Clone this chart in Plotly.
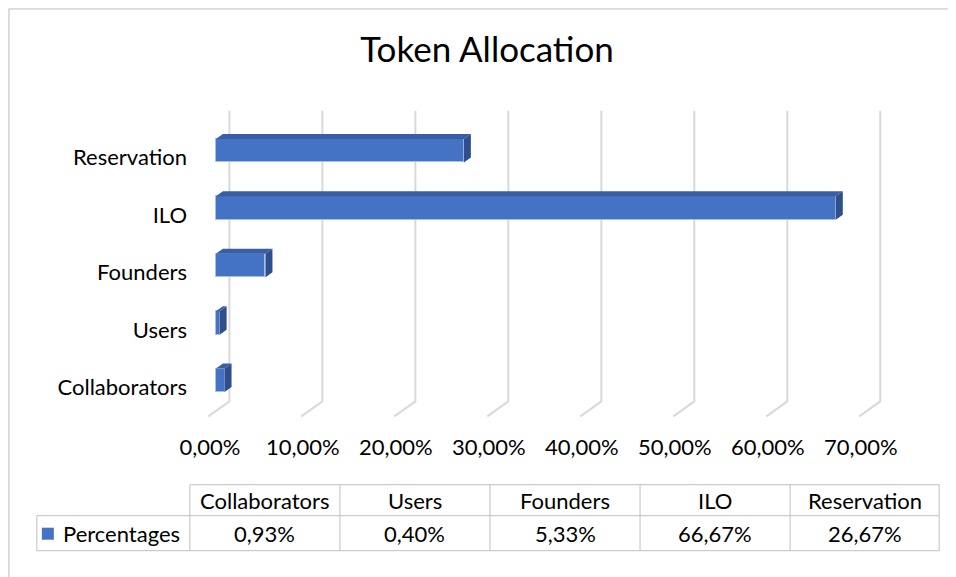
import plotly.graph_objects as go

# ---- data ----
categories = ["Collaborators", "Users", "Founders", "ILO", "Reservation"]
percentages = [0.93, 0.40, 5.33, 66.67, 26.67]
series_name = "Percentages"
x_ticks = [0, 10, 20, 30, 40, 50, 60, 70]
title_text = "Token Allocation"

def pct(v):
    return f"{v:.2f}%".replace(".", ",")

# ---- geometry (all in reference-page pixels) ----
OFF = 8                         # default body margin of the html page
W, H = 956 - OFF, 577 - OFF     # figure size
X0PX = 216.0                    # px of value 0 (front face)
pxu = 9.295                     # px per percent
XMIN, XMAX = -3.0, 72.5
PL = X0PX + XMIN * pxu
PR = X0PX + XMAX * pxu
PT, PB = 122.3, 409.3
pyu = (PB - PT) / 5.0

def xp(px):  # page px -> paper x
    return (px - PL) / (PR - PL)

def yp(py):  # page px -> paper y
    return (PB - py) / (PB - PT)

FONT = "Lato"
BLUE = "#4472C4"
TOP = "#3A5EA6"
SIDE = "#2E4E8C"
GRID = "#D9D9D9"
FS = 22

idx = list(range(len(categories)))
bar_w = 0.41

fig = go.Figure()
fig.add_trace(go.Bar(
    x=percentages, y=idx, orientation="h", width=bar_w,
    marker=dict(color=BLUE, line=dict(color="#A9BEE3", width=1)),
    name=series_name, showlegend=False, hoverinfo="x+y",
))

shapes = []
# back-wall gridlines + floor diagonals
back_dx = 13.5 / pxu
floor_dx = -21.0 / pxu
for v in x_ticks:
    xb = v + back_dx
    shapes.append(dict(
        type="path", xref="x", yref="paper",
        path=f"M {xb},{yp(111)} L {xb},{yp(401.7)} L {xb + floor_dx},{yp(416.7)}",
        line=dict(color=GRID, width=2), layer="below",
    ))

# 3D faces of bars
dx = 7.0 / pxu
dy = 5.0 / pyu
for i, v in zip(idx, percentages):
    yt = i + bar_w / 2
    yb = i - bar_w / 2
    shapes.append(dict(
        type="path", xref="x", yref="y",
        path=f"M 0,{yt} L {v},{yt} L {v + dx},{yt + dy} L {dx},{yt + dy} Z",
        fillcolor=TOP, line=dict(width=0), layer="above",
    ))
    shapes.append(dict(
        type="path", xref="x", yref="y",
        path=f"M {v},{yb} L {v},{yt} L {v + dx},{yt + dy} L {v + dx},{yb + dy} Z",
        fillcolor=SIDE, line=dict(width=0), layer="above",
    ))

# outer chart border
shapes.append(dict(type="line", xref="paper", yref="paper",
                   x0=xp(9), y0=yp(600), x1=xp(9), y1=yp(9),
                   line=dict(color=GRID, width=2)))
shapes.append(dict(type="line", xref="paper", yref="paper",
                   x0=xp(9), y0=yp(9), x1=xp(980), y1=yp(9),
                   line=dict(color=GRID, width=2)))

# data table
col_edges = [190, 340, 490, 640, 790, 939]
row_top, row_mid, row_bot = 485, 516, 551
key_left = 37
tcol = "#BFBFBF"
shapes.append(dict(type="line", xref="paper", yref="paper",
                   x0=xp(col_edges[0]), x1=xp(col_edges[-1]), y0=yp(row_top), y1=yp(row_top),
                   line=dict(color=tcol, width=1)))
for yy in (row_mid, row_bot):
    shapes.append(dict(type="line", xref="paper", yref="paper",
                       x0=xp(key_left), x1=xp(col_edges[-1]), y0=yp(yy), y1=yp(yy),
                       line=dict(color=tcol, width=1)))
shapes.append(dict(type="line", xref="paper", yref="paper",
                   x0=xp(key_left), x1=xp(key_left), y0=yp(row_mid), y1=yp(row_bot),
                   line=dict(color=tcol, width=1)))
for xx in col_edges:
    shapes.append(dict(type="line", xref="paper", yref="paper",
                       x0=xp(xx), x1=xp(xx), y0=yp(row_top), y1=yp(row_bot),
                       line=dict(color=tcol, width=1)))
# legend key square
shapes.append(dict(type="rect", xref="paper", yref="paper",
                   x0=xp(42), x1=xp(54), y0=yp(540), y1=yp(528),
                   fillcolor=BLUE, line=dict(width=0)))

annotations = []
tfont = dict(family=FONT, size=FS, color="#000000")
for k, (c, v) in enumerate(zip(categories, percentages)):
    cx = xp((col_edges[k] + col_edges[k + 1]) / 2)
    annotations.append(dict(text=c, x=cx, y=yp((row_top + row_mid) / 2), xref="paper", yref="paper",
                            showarrow=False, xanchor="center", yanchor="middle", font=tfont))
    annotations.append(dict(text=pct(v), x=cx, y=yp((row_mid + row_bot) / 2), xref="paper", yref="paper",
                            showarrow=False, xanchor="center", yanchor="middle", font=tfont))
annotations.append(dict(text=series_name, x=xp(61), y=yp((row_mid + row_bot) / 2), xref="paper", yref="paper",
                        showarrow=False, xanchor="left", yanchor="middle", font=tfont))

fig.update_layout(
    width=W, height=H,
    margin=dict(l=PL - OFF, r=956 - PR, t=PT - OFF, b=577 - PB, pad=0),
    paper_bgcolor="white", plot_bgcolor="rgba(0,0,0,0)",
    title=dict(text=title_text, xref="container", x=(487 - OFF) / W, xanchor="center",
               yref="container", y=1 - (50 - OFF) / H, yanchor="middle",
               font=dict(family=FONT, size=35, color="#000000")),
    xaxis=dict(range=[XMIN, XMAX], tickvals=x_ticks, ticktext=[pct(t) for t in x_ticks],
               showgrid=False, zeroline=False, showline=False, ticks="",
               ticklabelstandoff=23, ticklabelshift=-6,
               tickfont=dict(family=FONT, size=FS, color="#000000"), fixedrange=True),
    yaxis=dict(range=[-0.5, 4.5], tickvals=idx, ticktext=categories,
               showgrid=False, zeroline=False, showline=False, ticks="",
               ticklabelstandoff=0, ticklabelshift=7,
               tickfont=dict(family=FONT, size=FS, color="#000000"), fixedrange=True),
    shapes=shapes, annotations=annotations,
    bargap=0, showlegend=False,
)

fig.write_html("out.html")
